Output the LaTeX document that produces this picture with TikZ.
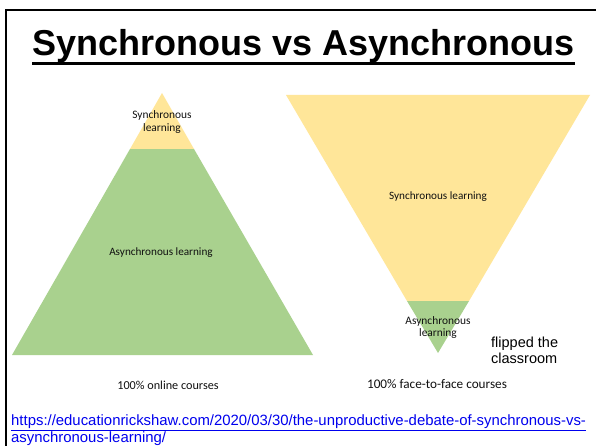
\documentclass[tikz,border=0pt]{standalone}
\usepackage{fontspec}
\setmainfont{Liberation Sans}
\newfontfamily\calib{Carlito}
\definecolor{syncyellow}{HTML}{FFE699}
\definecolor{asyncgreen}{HTML}{A9D18E}
\definecolor{linkblue}{HTML}{0000EE}
\definecolor{labelink}{HTML}{111111}
\begin{document}
\begin{tikzpicture}[x=1pt,y=-1pt,
  lab/.style={inner sep=0pt,align=center,text=labelink,font=\calib\fontsize{11.4}{12.5}\selectfont},
  biglab/.style={inner sep=0pt,align=center,text=labelink,font=\calib\fontsize{11.2}{12}\selectfont},
  capt/.style={inner sep=0pt,text=labelink,font=\calib\fontsize{12.2}{14}\selectfont}]
\useasboundingbox (0,0) rectangle (596,446);
\fill[white] (0,0) rectangle (596,446);
% frame
\draw[line width=2pt] (6,446) -- (6,10) -- (600,10);
% title
\node[inner sep=0pt,anchor=base,font=\bfseries\fontsize{36}{40}\selectfont] (title) at (303.5,56) {Synchronous vs Asynchronous};
\draw[line width=2.8pt] ([yshift=-7.5pt]title.base west) -- ([yshift=-7.5pt]title.base east);
% left pyramid
\fill[asyncgreen] (130,149) -- (194,149) -- (313,355) -- (12,355) -- cycle;
\fill[syncyellow] (162,93) -- (194,149) -- (130,149) -- cycle;
\node[lab] (ls) at (162,122) {Synchronous\\learning};
\node[biglab] (la) at (161,253) {Asynchronous learning};
\node[capt] (lc) at (168,385) {100\% online courses};
% right inverted pyramid
\fill[syncyellow] (286,95) -- (590,95) -- (469,301) -- (407,301) -- cycle;
\fill[asyncgreen] (407,301) -- (469,301) -- (438,353) -- cycle;
\node[biglab] (rs) at (438,197) {Synchronous learning};
\node[lab] (ra) at (438,327.5) {Asynchronous\\learning};
\node[capt,font=\calib\fontsize{13.2}{14}\selectfont] (rc) at (437,384) {100\% face-to-face courses};
\node[inner sep=0pt,align=left,anchor=north west,font=\fontsize{14.5}{15.5}\selectfont] (flip) at (491,337) {flipped the\\classroom};
% url
\node[inner sep=0pt,align=left,anchor=north west,text=linkblue,font=\fontsize{14.9}{16.5}\selectfont] (url) at (11,414.5) {\underline{https://educationrickshaw.com/2020/03/30/the-unproductive-debate-of-synchronous-vs-}\\\underline{asynchronous-learning/}};
\end{tikzpicture}
\end{document}
